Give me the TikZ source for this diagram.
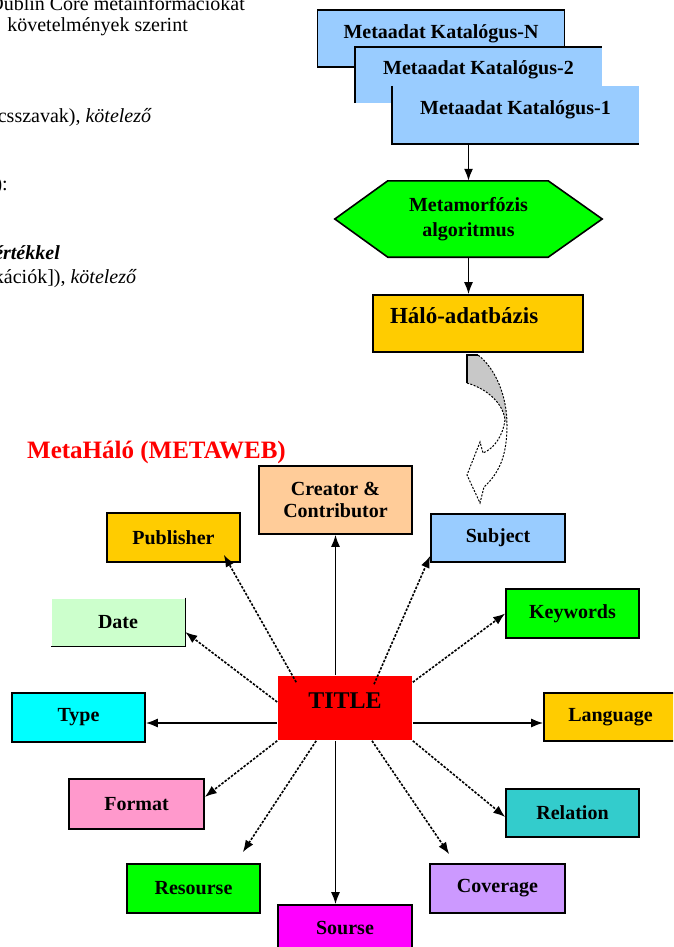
\documentclass[tikz,border=0pt]{standalone}
\usepackage{fontspec}
\setmainfont{Liberation Serif}
\usetikzlibrary{arrows.meta,backgrounds}
\definecolor{katblue}{HTML}{99CCFF}
\definecolor{hexgreen}{HTML}{00FF00}
\definecolor{gold}{HTML}{FFCC00}
\definecolor{peach}{HTML}{FFCC99}
\definecolor{mint}{HTML}{CCFFCC}
\definecolor{aqua}{HTML}{00FFFF}
\definecolor{pinkish}{HTML}{FF99CC}
\definecolor{magent}{HTML}{FF00FF}
\definecolor{lilac}{HTML}{CC99FF}
\definecolor{teal2}{HTML}{33CCCC}
\definecolor{arrowgray}{HTML}{C8C8C8}
\begin{document}
\begin{tikzpicture}[x=1pt,y=-1pt,
  lbl/.style={font=\fontsize{20}{22}\selectfont\bfseries},
  frag/.style={inner sep=0pt,font=\fontsize{20}{22}\selectfont},
  box/.style={lbl,draw=black,line width=1.6pt,inner sep=0pt,
    minimum width=133pt,minimum height=49pt,align=center},
  katbox/.style={lbl,fill=katblue,inner sep=0pt,minimum width=247pt,
    minimum height=57pt,text height=14pt,text depth=14pt},
  border/.style={draw=black,line width=1.6pt},
  solidarrow/.style={line width=1.6pt,-{Latex[length=12pt,width=9pt]}},
  dasharrow/.style={solidarrow,dash pattern=on 2.5pt off 1.5pt},
]
\path[use as bounding box] (0,0) rectangle (673,947);
\begin{scope}
\clip (0,0) rectangle (673,947);

% text lines of the page, cut at the left margin
\node[frag,anchor=base east] (f1) at (245,11) {Dublin Core metainformációkat};
\node[frag,anchor=base east] (f2) at (188,32) {követelmények szerint};
\node[frag,anchor=base east] (f3) at (152,123) {kulcsszavak), \textit{kötelező}};
\node[frag,anchor=base east] (f4) at (8,190) {):};
\node[frag,anchor=base east] (f5) at (60,259) {\textit{\bfseries értékkel}};
\node[frag,anchor=base east] (f6) at (137,283) {specifikációk]), \textit{kötelező}};

% stacked catalogue boxes
\node[katbox,border] (katN) at (441,38.5) {Metaadat Katalógus-N};
\node[katbox,minimum height=56pt] (kat2) at (478.5,75) {Metaadat Katalógus-2};
\draw[border] (kat2.south west) -- (kat2.north west) -- (kat2.north east);
\node[katbox,minimum height=58pt] (kat1) at (515.5,115) {Metaadat Katalógus-1};
\draw[border] (kat1.north west) -- (kat1.south west) -- (kat1.south east);

% transformation step
\node[inner sep=0pt,minimum width=267pt,minimum height=76pt,align=center,
  font=\fontsize{20}{25}\selectfont\bfseries] (meta) at (468.5,219)
  {Metamorfózis\\algoritmus};
\begin{scope}[on background layer]
\filldraw[fill=hexgreen,border] (meta.west) -- ([xshift=53pt]meta.north west)
  -- ([xshift=-54pt]meta.north east) -- (meta.east)
  -- ([xshift=-54pt]meta.south east) -- ([xshift=53pt]meta.south west) -- cycle;
\end{scope}

% network database
\node[border,fill=gold,inner ysep=0pt,inner xsep=17pt,text width=176pt,align=left,
  minimum height=57pt,text height=16pt,text depth=16pt,
  font=\fontsize{23}{25}\selectfont\bfseries] (halo) at (478,323.5) {Háló-adatbázis};

\draw[solidarrow] (meta.north |- kat1.south) -- (meta.north);
\draw[solidarrow] (meta.south) -- (meta.south |- halo.north);

% curved block arrow down to the network
\fill[arrowgray] (467,355) -- (478,355) .. controls (495,368) and (507,395) .. (507,425)
  -- (505,420) .. controls (503,402) and (485,388) .. (467,383) -- cycle;
\draw[line width=1.6pt] (478,355) -- (467,355) -- (467,383);
\draw[line width=1pt,dash pattern=on 2pt off 1.5pt]
  (467,383) .. controls (485,388) and (503,402) .. (505,420)
  .. controls (503,435) and (495,448) .. (483,453) -- (480,442) -- (467,475)
  -- (480,503) -- (484,487) .. controls (498,474) and (507,458) .. (507,425)
  .. controls (507,395) and (495,368) .. (478,355);

% network title
\node[inner sep=0pt,anchor=west,text=red,font=\fontsize{25}{28}\selectfont\bfseries]
  (metaweb) at (27,452) {MetaHáló (METAWEB)};

% element boxes
\node[box,fill=red,draw=none,minimum width=134pt,minimum height=64pt,
  text height=17pt,text depth=17pt,font=\fontsize{24}{26}\selectfont\bfseries]
  (title) at (345,708) {TITLE};
\node[box,fill=peach,minimum width=153pt,minimum height=68pt] (creator) at (335.5,500) {Creator \&\\Contributor};
\node[box,fill=gold] (publisher) at (173.5,537.5) {Publisher};
\node[box,fill=katblue,minimum width=134pt,minimum height=48pt] (subject) at (498,538) {Subject};
\node[box,fill=hexgreen] (keywords) at (572.5,613.5) {Keywords};
\node[box,fill=mint,draw=none,minimum height=47pt] (date) at (118,622) {Date};
\draw[border] (date.north east) -- (date.south east) -- (date.south west);
\node[box,fill=aqua] (type) at (78.5,717.5) {Type};
\node[box,fill=gold,minimum height=48pt] (language) at (610.5,717) {Language};
\node[box,fill=pinkish,minimum width=135pt,minimum height=50pt] (format) at (136.5,804) {Format};
\node[box,fill=teal2,minimum height=48pt] (relation) at (572.5,813) {Relation};
\node[box,fill=hexgreen] (resourse) at (193.5,888.5) {Resourse};
\node[box,fill=lilac,minimum width=135pt] (coverage) at (497.5,888.5) {Coverage};
\node[box,fill=magent,minimum width=134pt,minimum height=46pt] (sourse) at (345,928) {Sourse};

% connectors from the title
\draw[solidarrow] (title.north -| creator.south) -- (creator.south);
\draw[solidarrow] (title.south -| creator.south) -- (sourse.north -| creator.south);
\draw[solidarrow] ([yshift=-15pt]title.west) -- ([yshift=-15pt]title.west -| type.east);
\draw[solidarrow] ([yshift=-15pt]title.east) -- ([yshift=-15pt]title.east -| language.west);
\draw[dasharrow] ([xshift=19pt,yshift=-7pt]title.north west) -- ([xshift=-17pt,yshift=8pt]publisher.south east);
\draw[dasharrow] ([yshift=6pt]title.west) -- ([yshift=-10pt]date.east);
\draw[dasharrow] ([xshift=29pt,yshift=-9pt]title.north) -- ([yshift=7pt]subject.south west);
\draw[dasharrow] ([yshift=-7pt]title.north east) -- (keywords.west);
\draw[dasharrow] (title.south west) -- ([yshift=7pt]format.east);
\draw[dasharrow] ([xshift=39pt]title.south west) -- ([xshift=-18pt,yshift=11pt]resourse.north east);
\draw[dasharrow] ([xshift=27pt]title.south) -- ([xshift=20pt,yshift=9pt]coverage.north west);
\draw[dasharrow] (title.south east) -- ([yshift=-4pt]relation.west);
\end{scope}
\end{tikzpicture}
\end{document}
